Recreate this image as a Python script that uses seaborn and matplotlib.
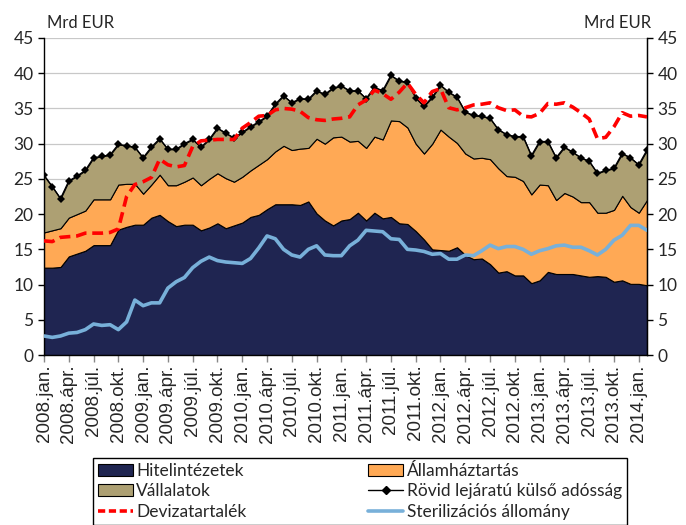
import matplotlib
matplotlib.use("Agg")
import matplotlib.pyplot as plt
import seaborn as sns
import pandas as pd
from matplotlib.patches import Patch
from matplotlib.lines import Line2D

# havi adatok 2008.jan - 2014.febr., Mrd EUR
years = [2008, 2009, 2010, 2011, 2012, 2013, 2014]
quarter_months = ["jan.", "ápr.", "júl.", "okt."]

hitelintezetek = [12.4, 12.4, 12.5, 14.0, 14.4, 14.8, 15.6, 15.6, 15.6, 17.8,
                  18.2, 18.5, 18.5, 19.5, 19.9, 19.0, 18.3, 18.5, 18.5, 17.7,
                  18.1, 18.7, 18.0, 18.4, 18.8, 19.6, 19.9, 20.7, 21.4, 21.4,
                  21.4, 21.3, 21.8, 20.1, 19.1, 18.4, 19.1, 19.3, 20.2, 19.1,
                  20.2, 19.4, 19.6, 18.7, 18.6, 17.6, 16.4, 15.0, 14.9, 14.8,
                  15.3, 14.2, 13.6, 13.7, 12.9, 11.7, 11.9, 11.3, 11.3, 10.2,
                  10.6, 11.8, 11.5, 11.5, 11.5, 11.3, 11.1, 11.2, 11.1, 10.4,
                  10.6, 10.1, 10.1, 9.9]
allamhaztartas = [5.0, 5.3, 5.5, 5.5, 5.6, 5.7, 6.5, 6.5, 6.5, 6.4,
                  6.1, 5.8, 4.4, 4.7, 5.7, 5.1, 5.8, 6.1, 6.7, 6.4,
                  6.9, 7.1, 7.1, 6.2, 6.5, 6.6, 7.1, 7.1, 7.5, 8.3,
                  7.7, 8.0, 7.6, 10.6, 10.9, 12.5, 11.9, 11.0, 10.2, 10.3,
                  10.8, 11.2, 13.7, 14.5, 13.7, 12.4, 12.2, 15.0, 17.1, 16.2,
                  14.8, 14.4, 14.3, 14.3, 14.9, 14.8, 13.5, 14.0, 13.4, 12.6,
                  13.6, 12.3, 10.5, 11.5, 11.0, 10.4, 10.6, 9.0, 9.1, 10.2,
                  12.0, 10.9, 10.1, 12.1]
vallalatok = [8.1, 6.2, 4.2, 5.2, 5.4, 5.7, 5.9, 6.1, 6.3, 5.7,
              5.4, 5.2, 5.1, 5.3, 5.1, 5.1, 5.1, 5.4, 5.4, 5.4,
              5.6, 6.4, 6.4, 6.2, 6.3, 6.2, 6.1, 6.1, 6.7, 7.1,
              6.7, 7.1, 6.9, 6.8, 7.0, 7.0, 7.2, 7.2, 7.1, 7.0,
              7.0, 6.9, 6.4, 5.7, 6.4, 6.5, 6.7, 6.6, 6.3, 6.3,
              6.5, 5.9, 6.1, 5.9, 5.8, 5.5, 5.9, 5.7, 6.3, 5.5,
              6.1, 6.2, 6.0, 6.5, 6.3, 6.3, 5.8, 5.6, 6.0, 5.9,
              6.0, 7.0, 6.8, 7.1]
rovid_kulso = [25.5, 23.9, 22.2, 24.7, 25.4, 26.2, 28.0, 28.2, 28.4, 29.9,
               29.7, 29.5, 28.0, 29.5, 30.7, 29.2, 29.2, 30.0, 30.6, 29.5,
               30.6, 32.2, 31.5, 30.8, 31.6, 32.4, 33.1, 33.9, 35.6, 36.8,
               35.8, 36.4, 36.3, 37.5, 37.0, 37.9, 38.2, 37.5, 37.5, 36.4,
               38.0, 37.5, 39.7, 38.9, 38.7, 36.5, 35.3, 36.6, 38.3, 37.3,
               36.6, 34.5, 34.0, 33.9, 33.6, 32.0, 31.3, 31.0, 31.0, 28.3,
               30.3, 30.3, 28.0, 29.5, 28.8, 28.0, 27.5, 25.8, 26.2, 26.5,
               28.6, 28.0, 27.0, 29.1]
devizatartalek = [16.2, 16.1, 16.7, 16.8, 16.9, 17.3, 17.3, 17.3, 17.4, 17.9,
                  22.5, 24.2, 24.6, 25.2, 27.8, 27.0, 26.7, 26.9, 29.6, 30.4,
                  30.5, 30.6, 30.6, 30.6, 32.2, 33.0, 33.9, 34.0, 34.8, 35.0,
                  34.9, 34.6, 33.7, 33.4, 33.3, 33.5, 33.6, 33.8, 35.5, 36.2,
                  37.6, 37.1, 36.3, 37.3, 38.6, 37.0, 35.8, 37.4, 37.8, 35.1,
                  34.8, 35.1, 35.5, 35.6, 35.8, 35.1, 34.7, 34.8, 33.9, 33.8,
                  34.3, 35.7, 35.6, 35.8, 35.2, 34.4, 33.5, 30.7, 30.9, 32.4,
                  34.4, 33.9, 34.0, 33.8]
sterilizacios = [2.7, 2.5, 2.7, 3.1, 3.2, 3.6, 4.4, 4.2, 4.3, 3.6,
                 4.7, 7.8, 7.0, 7.4, 7.4, 9.5, 10.4, 11.0, 12.4, 13.3,
                 13.9, 13.4, 13.2, 13.1, 13.0, 13.7, 15.2, 16.9, 16.5, 15.0,
                 14.2, 13.9, 15.0, 15.5, 14.2, 14.1, 14.1, 15.5, 16.3, 17.7,
                 17.6, 17.5, 16.5, 16.4, 15.0, 14.9, 14.7, 14.3, 14.4, 13.6,
                 13.6, 14.2, 14.1, 14.8, 15.6, 15.1, 15.4, 15.4, 15.0, 14.3,
                 14.8, 15.1, 15.5, 15.6, 15.3, 15.3, 14.8, 14.2, 15.0, 16.3,
                 17.0, 18.4, 18.4, 17.7]

tick_labels = [f"{y}.{m}" for y in years for m in quarter_months][:25]

df = pd.DataFrame({
    "Hitelintézetek": hitelintezetek,
    "Államháztartás": allamhaztartas,
    "Vállalatok": vallalatok,
    "Rövid lejáratú külső adósság": rovid_kulso,
    "Devizatartalék": devizatartalek,
    "Sterilizációs állomány": sterilizacios,
})
df["honap"] = range(len(df))

c_navy = "#1F2551"
c_orange = "#FFA955"
c_khaki = "#ADA073"
c_red = "#FF0000"
c_blue = "#78B0D9"

sns.set_style("white")
plt.rcParams["font.family"] = ["Lato", "DejaVu Sans"]

fig = plt.figure(figsize=(6.86, 5.25), dpi=100)
ax = fig.add_axes([44 / 686, 1 - 355 / 525, (647 - 44) / 686, (355 - 38) / 525])

# --- stacked areas ---
ax.stackplot(df["honap"], df["Hitelintézetek"], df["Államháztartás"], df["Vállalatok"],
             colors=[c_navy, c_orange, c_khaki], edgecolor="black", linewidth=0.8, zorder=2)

# --- lines ---
sns.lineplot(data=df, x="honap", y="Rövid lejáratú külső adósság", color="black",
             marker="D", markersize=4.5, markeredgewidth=0, linewidth=1.0, ax=ax, zorder=3)
sns.lineplot(data=df, x="honap", y="Devizatartalék", color=c_red, linewidth=2.6,
             ax=ax, zorder=4, dashes=False)
ax.lines[-1].set_dashes((3, 1.6))
sns.lineplot(data=df, x="honap", y="Sterilizációs állomány", color=c_blue, linewidth=2.6,
             ax=ax, zorder=4)

ax.set_xlim(0, len(df) - 1)
ax.set_ylim(0, 45)
ax.set_yticks(range(0, 46, 5))
ax.set_xticks(range(0, len(df), 3))
ax.set_xticklabels(tick_labels, rotation=90, fontsize=13.5, family="Liberation Sans")
ax.set_xlabel("")
ax.set_ylabel("")
ax.grid(axis="y", color="#C8C8C8", linewidth=0.9)
ax.set_axisbelow(True)
ax.tick_params(axis="y", labelsize=12.5, length=4, width=1, color="black", direction="out", left=True)
ax.tick_params(axis="x", length=5, width=1, color="#888888", direction="out", bottom=True, pad=2)
for s in ["left", "bottom", "right"]:
    ax.spines[s].set_color("black")
    ax.spines[s].set_linewidth(1.0)
ax.spines["top"].set_visible(False)

ax2 = ax.twinx()
ax2.set_ylim(0, 45)
ax2.set_yticks(range(0, 46, 5))
ax2.tick_params(axis="y", labelsize=12.5, length=4, width=1, color="black", direction="out", right=True)
for s in ["top", "left", "bottom"]:
    ax2.spines[s].set_visible(False)
ax2.spines["right"].set_color("black")

fig.text(47 / 686, 1 - 23 / 525, "Mrd EUR", fontsize=12, va="center", ha="left")
fig.text(651 / 686, 1 - 23 / 525, "Mrd EUR", fontsize=12, va="center", ha="right")

handles = [
    Patch(facecolor=c_navy, edgecolor="black", linewidth=0.8, label="Hitelintézetek"),
    Patch(facecolor=c_khaki, edgecolor="black", linewidth=0.8, label="Vállalatok"),
    Line2D([], [], color=c_red, linewidth=2.6, dashes=(2, 1), label="Devizatartalék"),
    Patch(facecolor=c_orange, edgecolor="black", linewidth=0.8, label="Államháztartás"),
    Line2D([], [], color="black", marker="D", markersize=4, linewidth=1,
           label="Rövid lejáratú külső adósság"),
    Line2D([], [], color=c_blue, linewidth=2.6, label="Sterilizációs állomány"),
]
leg = fig.legend(handles=handles, ncol=2, loc="lower left", mode="expand",
                 bbox_to_anchor=(93 / 686, 0.0, (627 - 93) / 686, 1 - 457 / 525),
                 fontsize=12.5, frameon=True, fancybox=False, edgecolor="black",
                 framealpha=1, borderaxespad=0, handlelength=2.0, handleheight=0.7,
                 handletextpad=0.2, labelspacing=0.25, borderpad=0.3)
leg.get_frame().set_linewidth(1.0)

fig.savefig("out.png", dpi=100)
